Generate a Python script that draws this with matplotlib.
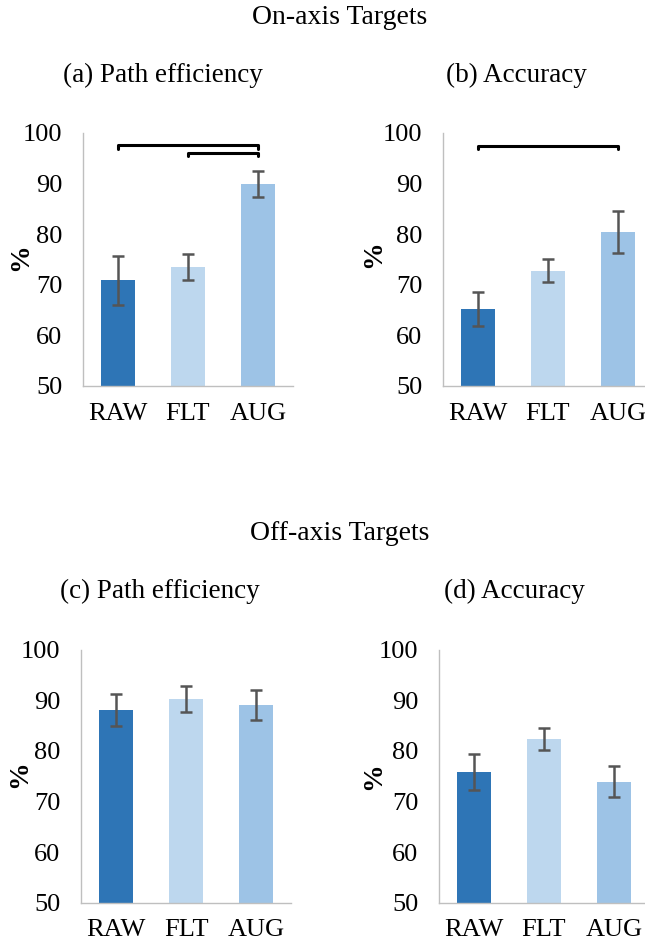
import numpy as np
import matplotlib.pyplot as plt

plt.rcParams['font.family'] = ['Liberation Serif', 'DejaVu Serif']

groups = ['RAW', 'FLT', 'AUG']
bar_colors = ['#2E75B6', '#BDD7EE', '#9DC3E6']

# on-axis targets
on_path = [70.9, 73.5, 89.9]
on_path_err = [4.8, 2.6, 2.6]
on_acc = [65.2, 72.8, 80.4]
on_acc_err = [3.3, 2.3, 4.2]

# off-axis targets
off_path = [88.1, 90.3, 89.1]
off_path_err = [3.1, 2.6, 2.9]
off_acc = [75.8, 82.4, 73.9]
off_acc_err = [3.5, 2.2, 3.1]

# significance brackets: (from group, to group, height)
on_path_sig = [(0, 2, 97.6), (1, 2, 96.1)]
on_acc_sig = [(0, 2, 97.5)]


def draw_panel(ax, vals, errs, sig, label_xy):
    x = np.arange(len(groups))
    ax.bar(x, vals, width=0.48, color=bar_colors, zorder=2)
    ax.errorbar(x, vals, yerr=errs, fmt='none', ecolor='#555555',
                elinewidth=1.8, capsize=4.5, capthick=1.8, zorder=3)
    for a, b, h in sig:
        ax.plot([a, a, b, b], [h - 0.7, h, h, h - 0.7], color='k', lw=2.2,
                solid_capstyle='round', solid_joinstyle='round', clip_on=False)
    ax.set_xlim(-0.5, 2.5)
    ax.set_ylim(50, 100)
    ax.set_yticks(range(50, 101, 10))
    ax.set_xticks(x)
    ax.set_xticklabels(groups)
    ax.tick_params(length=0, labelsize=19)
    ax.tick_params(axis='y', pad=15)
    ax.tick_params(axis='x', pad=12)
    for s in ['top', 'right']:
        ax.spines[s].set_visible(False)
    for s in ['left', 'bottom']:
        ax.spines[s].set_color('#BFBFBF')
        ax.spines[s].set_linewidth(1.0)
    ax.set_ylabel('%', fontsize=20, fontweight='bold')
    ax.yaxis.set_label_coords(*label_xy)


fig = plt.figure(figsize=(6.45, 9.43), dpi=100)
w, h = 0.3256, 0.2683
ax_a = fig.add_axes([0.1287, 0.5907, w, h])
ax_b = fig.add_axes([0.6868, 0.5907, w, h])
ax_c = fig.add_axes([0.1260, 0.0427, w, h])
ax_d = fig.add_axes([0.6806, 0.0427, w, h])

draw_panel(ax_a, on_path, on_path_err, on_path_sig, (-0.236, 0.51))
draw_panel(ax_b, on_acc, on_acc_err, on_acc_sig, (-0.269, 0.52))
draw_panel(ax_c, off_path, off_path_err, [], (-0.233, 0.51))
draw_panel(ax_d, off_acc, off_acc_err, [], (-0.250, 0.50))

fig.text(0.527, 1 - 18 / 943, 'On-axis Targets', ha='center', va='center', fontsize=20)
fig.text(0.253, 1 - 75 / 943, '(a) Path efficiency', ha='center', va='center', fontsize=19.5)
fig.text(0.800, 1 - 75 / 943, '(b) Accuracy', ha='center', va='center', fontsize=19.5)
fig.text(0.527, 1 - 533 / 943, 'Off-axis Targets', ha='center', va='center', fontsize=20)
fig.text(0.248, 1 - 591 / 943, '(c) Path efficiency', ha='center', va='center', fontsize=19.5)
fig.text(0.797, 1 - 591 / 943, '(d) Accuracy', ha='center', va='center', fontsize=19.5)

plt.savefig('out.png', dpi=100)
